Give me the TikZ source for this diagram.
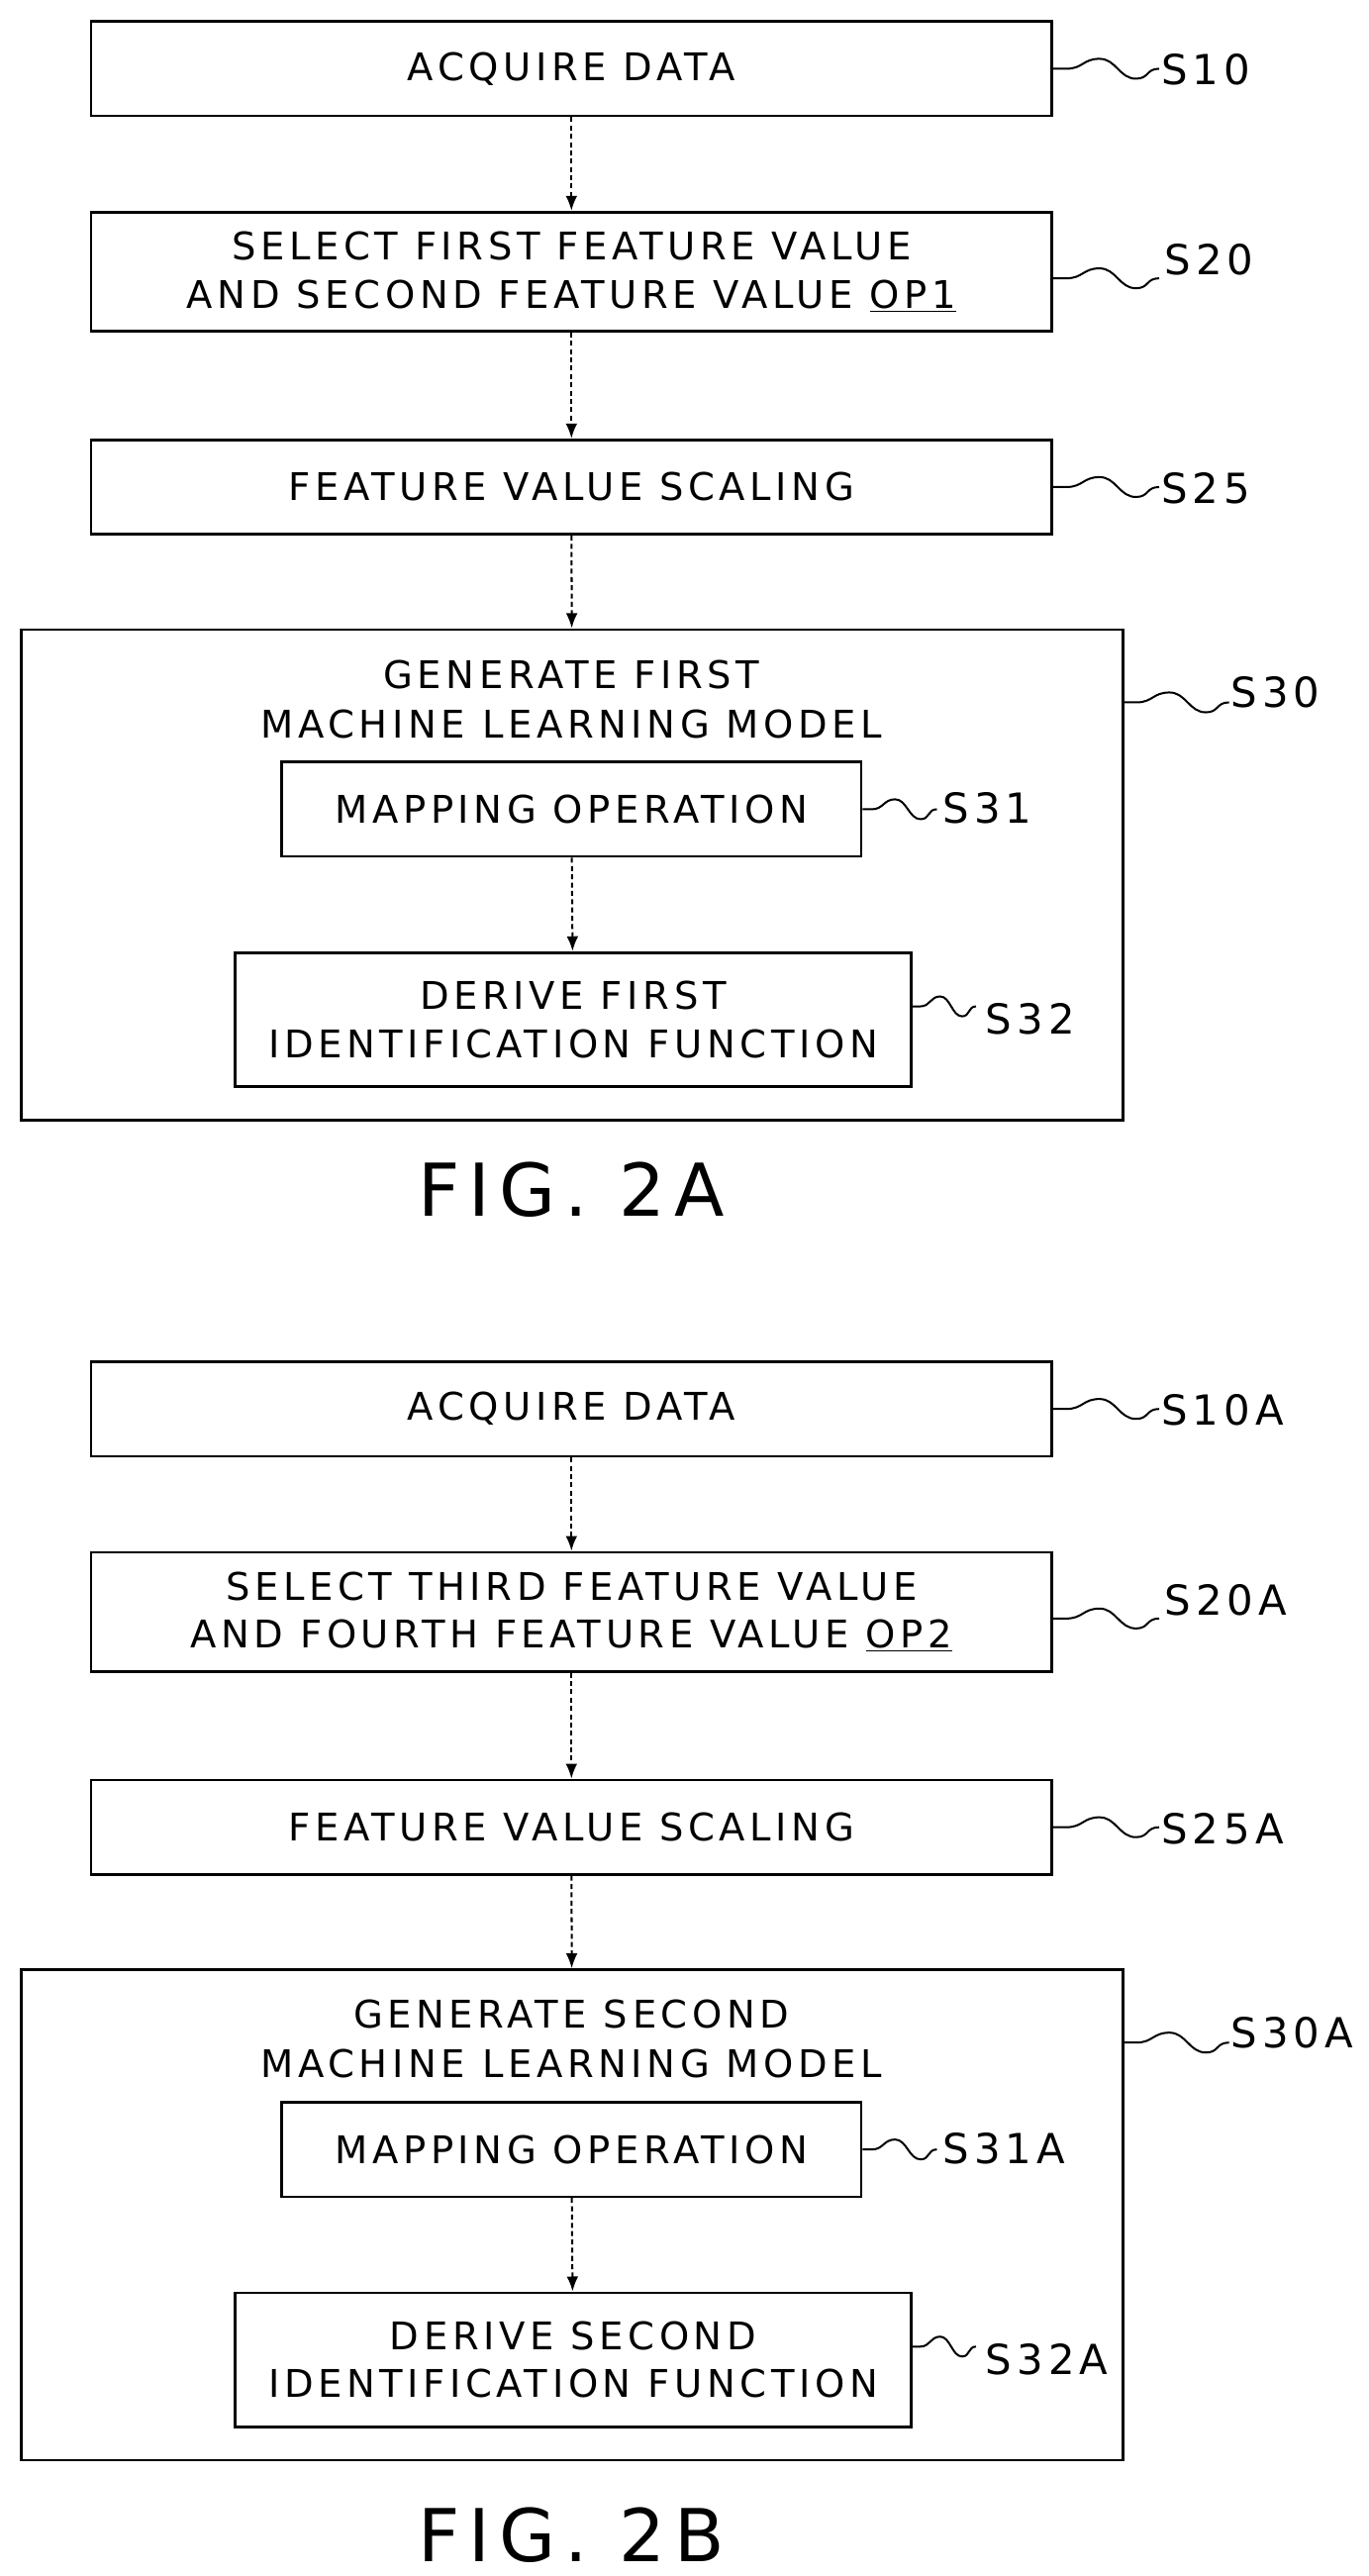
\documentclass[tikz,border=0pt]{standalone}
\usepackage{fontspec}
\setmainfont[LetterSpace=12]{DejaVu Sans}
\usetikzlibrary{arrows.meta}
\begin{document}
\begin{tikzpicture}[x=1pt,y=-1pt,
  box/.style={draw,line width=1.6pt,minimum height=57pt,align=center,font=\fontsize{23}{29}\selectfont,inner sep=0pt},
  lab/.style={font=\fontsize{25}{30}\selectfont,anchor=west,inner sep=1pt},
  arr/.style={line width=1.2pt,densely dashed,-{Latex[length=9pt,width=7pt]}},
  fig/.style={font=\fontsize{44}{50}\selectfont}]
\useasboundingbox (0,0) rectangle (826,1555);
\newcommand{\squig}[2]{% start coordinate, x-scale
  \draw[line width=1.2pt,xscale=#2] (#1) -- ++(8,0) .. controls ++(10,0) and ++(-10,0) .. ++(20,-6) .. controls ++(10,0) and ++(-10,0) .. ++(22,12) .. controls ++(8,0) and ++(-8,0) .. ++(14,-6);}
\foreach \off/\suf/\ord/\ordb/\op/\mod in {0//FIRST/SECOND/OP1/FIRST, 809/A/THIRD/FOURTH/OP2/SECOND}{
\begin{scope}[yshift=-\off pt]
\node[box,minimum width=580pt] (a\suf) at (345,41.5) {ACQUIRE DATA};
\node[box,minimum width=580pt,minimum height=72pt] (b\suf) at (345,164) {SELECT \ord\ FEATURE VALUE\\AND \ordb\ FEATURE VALUE \underline{\op}};
\node[box,minimum width=580pt] (c\suf) at (345,294) {FEATURE VALUE SCALING};
\node[draw,line width=1.6pt,minimum width=665pt,minimum height=296pt,inner sep=0pt] (d\suf) at (345.5,528) {};
\node[font=\fontsize{23}{30}\selectfont,align=center] (t\suf) at (345,422) {GENERATE \mod\\MACHINE LEARNING MODEL};
\node[box,minimum width=350pt] (e\suf) at (345,488.5) {MAPPING OPERATION};
\node[box,minimum width=408pt,minimum height=81pt] (f\suf) at (346,615.5) {DERIVE \mod\\IDENTIFICATION FUNCTION};
\draw[arr] (a\suf) -- (b\suf);
\draw[arr] (b\suf) -- (c\suf);
\draw[arr] (c\suf) -- (d\suf);
\draw[arr] (e\suf) -- (f\suf);
\coordinate (pa\suf) at (a\suf.east); \squig{pa\suf}{1}
\node[lab] (la\suf) at (700,42) {S10\suf};
\coordinate (pb\suf) at ([yshift=-4pt]b\suf.east); \squig{pb\suf}{1}
\node[lab] (lb\suf) at (702,157) {S20\suf};
\coordinate (pc\suf) at (c\suf.east); \squig{pc\suf}{1}
\node[lab] (lc\suf) at (700,295) {S25\suf};
\coordinate (pd\suf) at (678,424); \squig{pd\suf}{1}
\node[lab] (ld\suf) at (742,418) {S30\suf};
\coordinate (pe\suf) at (e\suf.east); \squig{pe\suf}{0.7}
\node[lab] (le\suf) at (568,488) {S31\suf};
\coordinate (pf\suf) at ([yshift=8pt]f\suf.east); \squig{pf\suf}{0.6}
\node[lab] (lf\suf) at (594,615) {S32\suf};
\end{scope}}
\node[fig] (fa) at (345,718) {FIG.\ 2A};
\node[fig] (fb) at (345,1530) {FIG.\ 2B};
\end{tikzpicture}
\end{document}
